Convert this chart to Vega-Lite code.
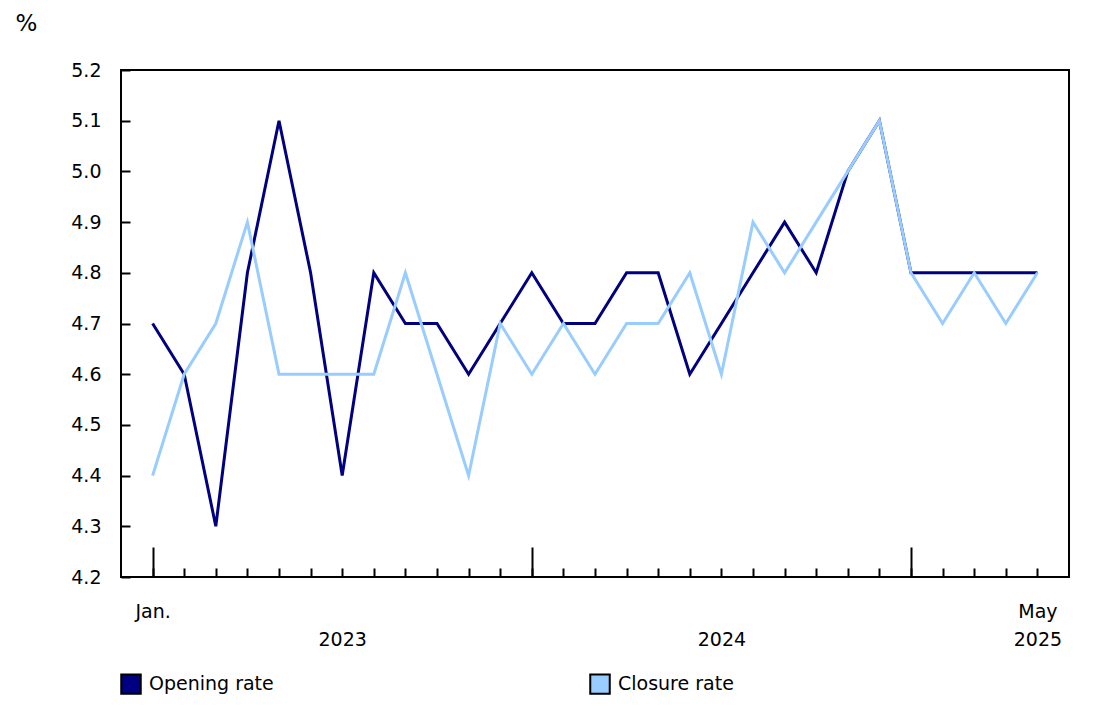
{
  "$schema": "https://vega.github.io/schema/vega-lite/v6.json",
  "width": 948,
  "height": 507,
  "autosize": {"type": "none"},
  "padding": {"left": 121, "top": 70, "right": 36, "bottom": 130},
  "config": {
    "view": {"stroke": "black", "strokeWidth": 2},
    "font": "DejaVu Sans",
    "axis": {
      "labelFont": "DejaVu Sans",
      "labelFontSize": 19,
      "labelColor": "black",
      "tickColor": "black",
      "tickWidth": 2,
      "domain": false,
      "grid": false,
      "titleFont": "DejaVu Sans",
      "titleFontSize": 23,
      "titleFontWeight": "normal",
      "titleColor": "black"
    }
  },
  "data": {
    "values": [
      {"month": "2023-01", "series": "Opening rate", "value": 4.7},
      {"month": "2023-02", "series": "Opening rate", "value": 4.6},
      {"month": "2023-03", "series": "Opening rate", "value": 4.3},
      {"month": "2023-04", "series": "Opening rate", "value": 4.8},
      {"month": "2023-05", "series": "Opening rate", "value": 5.1},
      {"month": "2023-06", "series": "Opening rate", "value": 4.8},
      {"month": "2023-07", "series": "Opening rate", "value": 4.4},
      {"month": "2023-08", "series": "Opening rate", "value": 4.8},
      {"month": "2023-09", "series": "Opening rate", "value": 4.7},
      {"month": "2023-10", "series": "Opening rate", "value": 4.7},
      {"month": "2023-11", "series": "Opening rate", "value": 4.6},
      {"month": "2023-12", "series": "Opening rate", "value": 4.7},
      {"month": "2024-01", "series": "Opening rate", "value": 4.8},
      {"month": "2024-02", "series": "Opening rate", "value": 4.7},
      {"month": "2024-03", "series": "Opening rate", "value": 4.7},
      {"month": "2024-04", "series": "Opening rate", "value": 4.8},
      {"month": "2024-05", "series": "Opening rate", "value": 4.8},
      {"month": "2024-06", "series": "Opening rate", "value": 4.6},
      {"month": "2024-07", "series": "Opening rate", "value": 4.7},
      {"month": "2024-08", "series": "Opening rate", "value": 4.8},
      {"month": "2024-09", "series": "Opening rate", "value": 4.9},
      {"month": "2024-10", "series": "Opening rate", "value": 4.8},
      {"month": "2024-11", "series": "Opening rate", "value": 5.0},
      {"month": "2024-12", "series": "Opening rate", "value": 5.1},
      {"month": "2025-01", "series": "Opening rate", "value": 4.8},
      {"month": "2025-02", "series": "Opening rate", "value": 4.8},
      {"month": "2025-03", "series": "Opening rate", "value": 4.8},
      {"month": "2025-04", "series": "Opening rate", "value": 4.8},
      {"month": "2025-05", "series": "Opening rate", "value": 4.8},
      {"month": "2023-01", "series": "Closure rate", "value": 4.4},
      {"month": "2023-02", "series": "Closure rate", "value": 4.6},
      {"month": "2023-03", "series": "Closure rate", "value": 4.7},
      {"month": "2023-04", "series": "Closure rate", "value": 4.9},
      {"month": "2023-05", "series": "Closure rate", "value": 4.6},
      {"month": "2023-06", "series": "Closure rate", "value": 4.6},
      {"month": "2023-07", "series": "Closure rate", "value": 4.6},
      {"month": "2023-08", "series": "Closure rate", "value": 4.6},
      {"month": "2023-09", "series": "Closure rate", "value": 4.8},
      {"month": "2023-10", "series": "Closure rate", "value": 4.6},
      {"month": "2023-11", "series": "Closure rate", "value": 4.4},
      {"month": "2023-12", "series": "Closure rate", "value": 4.7},
      {"month": "2024-01", "series": "Closure rate", "value": 4.6},
      {"month": "2024-02", "series": "Closure rate", "value": 4.7},
      {"month": "2024-03", "series": "Closure rate", "value": 4.6},
      {"month": "2024-04", "series": "Closure rate", "value": 4.7},
      {"month": "2024-05", "series": "Closure rate", "value": 4.7},
      {"month": "2024-06", "series": "Closure rate", "value": 4.8},
      {"month": "2024-07", "series": "Closure rate", "value": 4.6},
      {"month": "2024-08", "series": "Closure rate", "value": 4.9},
      {"month": "2024-09", "series": "Closure rate", "value": 4.8},
      {"month": "2024-10", "series": "Closure rate", "value": 4.9},
      {"month": "2024-11", "series": "Closure rate", "value": 5.0},
      {"month": "2024-12", "series": "Closure rate", "value": 5.1},
      {"month": "2025-01", "series": "Closure rate", "value": 4.8},
      {"month": "2025-02", "series": "Closure rate", "value": 4.7},
      {"month": "2025-03", "series": "Closure rate", "value": 4.8},
      {"month": "2025-04", "series": "Closure rate", "value": 4.7},
      {"month": "2025-05", "series": "Closure rate", "value": 4.8}
    ]
  },
  "resolve": {"axis": {"x": "independent"}},
  "encoding": {
    "y": {
      "field": "value", "type": "quantitative",
      "scale": {"domain": [4.2, 5.2], "zero": false, "nice": false},
      "axis": {
        "values": [4.2, 4.3, 4.4, 4.5, 4.6, 4.7, 4.8, 4.9, 5.0, 5.1, 5.2],
        "format": ".1f", "tickSize": -9, "labelPadding": 29,
        "title": "%", "titleAngle": 0, "titleAlign": "left",
        "titleBaseline": "alphabetic", "titleX": -106, "titleY": -40
      }
    }
  },
  "layer": [
    {
      "mark": {"type": "square", "filled": true, "opacity": 0, "size": 380, "strokeWidth": 2},
      "encoding": {
        "x": {
          "field": "month", "type": "ordinal",
          "scale": {"type": "point", "padding": 1},
          "axis": {
            "orient": "bottom", "title": null, "ticks": false, "labelAngle": 0,
            "values": ["2023-07", "2024-07", "2025-05"], "labelPadding": 53,
            "labelExpr": "substring(datum.value, 0, 4)"
          }
        },
        "fill": {
          "field": "series", "type": "nominal",
          "scale": {"domain": ["Opening rate", "Closure rate"], "range": ["#000080", "#99CCFF"]},
          "legend": {
            "orient": "none", "legendX": -1, "legendY": 603,
            "direction": "horizontal", "title": null,
            "symbolType": "square", "symbolSize": 380, "symbolOpacity": 1, "symbolStrokeWidth": 2,
            "labelFont": "DejaVu Sans", "labelFontSize": 19, "labelColor": "black",
            "labelOffset": 7, "columnPadding": 312
          }
        },
        "stroke": {
          "field": "series", "type": "nominal",
          "scale": {"domain": ["Opening rate", "Closure rate"], "range": ["#000000", "#000000"]},
          "legend": {
            "orient": "none", "legendX": -1, "legendY": 603,
            "direction": "horizontal", "title": null,
            "symbolType": "square", "symbolSize": 380, "symbolOpacity": 1, "symbolStrokeWidth": 2,
            "labelFont": "DejaVu Sans", "labelFontSize": 19, "labelColor": "black",
            "labelOffset": 7, "columnPadding": 312
          }
        }
      }
    },
    {
      "transform": [{"filter": "datum.series === 'Opening rate'"}],
      "mark": {"type": "line", "strokeWidth": 3},
      "encoding": {
        "x": {
          "field": "month", "type": "ordinal",
          "scale": {"type": "point", "padding": 1},
          "axis": {
            "orient": "bottom", "title": null, "labelAngle": 0,
            "tickSize": -9, "labelPadding": 34,
            "labelExpr": "datum.value === '2023-01' ? 'Jan.' : datum.value === '2025-05' ? 'May' : ''"
          }
        },
        "color": {
          "field": "series", "type": "nominal",
          "scale": {"domain": ["Opening rate", "Closure rate"], "range": ["#000080", "#99CCFF"]},
          "legend": null
        }
      }
    },
    {
      "transform": [{"filter": "datum.series === 'Closure rate'"}],
      "mark": {"type": "line", "strokeWidth": 3},
      "encoding": {
        "x": {
          "field": "month", "type": "ordinal",
          "scale": {"type": "point", "padding": 1},
          "axis": {
            "orient": "bottom", "title": null, "labels": false,
            "values": ["2023-01", "2024-01", "2025-01"], "tickSize": -30
          }
        },
        "color": {"field": "series", "type": "nominal", "legend": null}
      }
    }
  ]
}
